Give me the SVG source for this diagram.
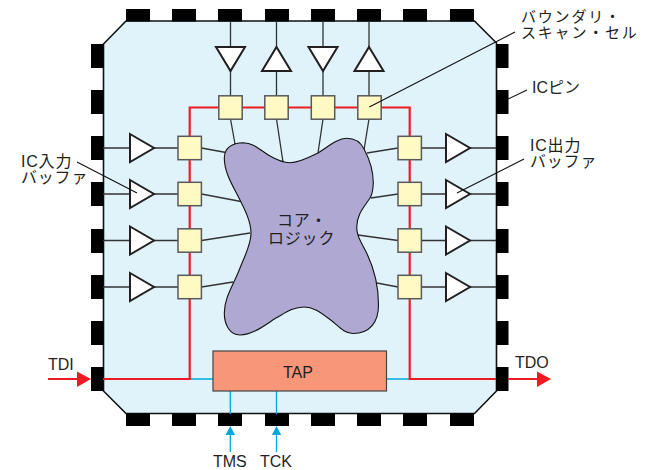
<svg xmlns="http://www.w3.org/2000/svg" width="653" height="470" viewBox="0 0 653 470">
<style>
text{font-family:"Liberation Sans","Noto Sans CJK JP",sans-serif;font-size:16px;fill:#231f20}
.k{letter-spacing:.8px}
.k2{font-size:15px;letter-spacing:1.8px}
.pin{fill:#000}
.cell{fill:#fff9c4;stroke:#58595b;stroke-width:1.5}
.buf{fill:#fff;stroke:#231f20;stroke-width:2}
.w{fill:none;stroke:#333;stroke-width:1.3}
.l{fill:none;stroke:#111;stroke-width:1.1}
.r{fill:none;stroke:#ed1c24;stroke-width:2.2}
.b{fill:none;stroke:#00a6e0;stroke-width:1.3}
</style>
<defs>
<rect id="ph" class="pin" width="24" height="12.5"/>
<rect id="pv" class="pin" width="12.5" height="24"/>
<rect id="c" class="cell" x="-11.7" y="-11.7" width="23.4" height="23.4"/>
<path id="br" class="buf" d="M-12-14L12 0L-12 14Z"/>
<path id="bl" class="buf" d="M-14.5-12H14.5L0 12Z"/>
<path id="bu" class="buf" d="M0-12L14.5 12H-14.5Z"/>
</defs>
<g id="package">
<path d="M126 21H474.500L496.500 43V391L474.500 413.500H126L103.500 391V44Z" fill="#e0f3fb" stroke="#111" stroke-width="1.6"/>
<use href="#ph" x="126" y="9"/><use href="#ph" x="172" y="9"/><use href="#ph" x="218" y="9"/><use href="#ph" x="265" y="9"/><use href="#ph" x="311" y="9"/><use href="#ph" x="357" y="9"/><use href="#ph" x="403" y="9"/><use href="#ph" x="450" y="9"/>
<use href="#ph" x="126" y="413.500"/><use href="#ph" x="172" y="413.500"/><use href="#ph" x="218" y="413.500"/><use href="#ph" x="265" y="413.500"/><use href="#ph" x="311" y="413.500"/><use href="#ph" x="357" y="413.500"/><use href="#ph" x="403" y="413.500"/><use href="#ph" x="450" y="413.500"/>
<use href="#pv" x="91" y="44"/><use href="#pv" x="91" y="90"/><use href="#pv" x="91" y="136"/><use href="#pv" x="91" y="182"/><use href="#pv" x="91" y="229"/><use href="#pv" x="91" y="275"/><use href="#pv" x="91" y="321"/><use href="#pv" x="91" y="367"/>
<use href="#pv" x="496" y="44"/><use href="#pv" x="496" y="90"/><use href="#pv" x="496" y="136"/><use href="#pv" x="496" y="182"/><use href="#pv" x="496" y="229"/><use href="#pv" x="496" y="275"/><use href="#pv" x="496" y="321"/><use href="#pv" x="496" y="367"/>
</g>
<g id="connectors">
<path class="b" d="M190 379H213M386 379H409M230.300 391V414M276.500 391V414"/>
<path class="b" d="M230.300 434V452M276.500 434V452"/>
<path fill="#00a6e0" d="M230.300 426L235 435H225.500ZM276.500 426L281.200 435H271.800Z"/>
<path class="r" d="M103 379H189.700V107.500H409.700V379H496"/>
<path class="r" d="M48 379H78M508 379H538"/>
<path fill="#ed1c24" d="M91 379L77 371.500V387ZM551 379L537 371.500V387Z"/>
<path class="w" d="M230.500 21V96M276.500 21V96M323 21V96M369 21V96"/>
<path class="w" d="M103 148H178M103 194H178M103 240.500H178M103 287H178M421 148H496M421 194H496M421 240.500H496M421 287H496"/>
<path class="w" d="M230.500 119L235 144M276.500 119L283 162M323 119L318 153M369 119L364 150M201.500 148L226 152.500M201.500 194L241 201.500M201.500 240.500L250 233M201.500 287L233 282M398 148L367 153M398 194L371 198M398 240.500L358 235M398 287L377 283"/>
</g>
<g id="core">
<path d="M224.300 158C224.300 148 232 142.700 243.300 142.700C255 143 262 152 270 156C277 160 283 162.700 290 162.700C300 162.700 310 157 318 153C328 147 337 138.300 346.700 138.300C355 138.300 361 143 364 149C370 160 373.300 170 373.300 183C373 190 372 195 370 198C365 206 356.700 214 356.700 227C356.700 236 360 240 363 246C372 262 378.500 280 378.500 305C378.500 322 370 333.500 353 333.500C343 333.500 337 324 328 318C320 312 313 307 304 307C293 307 285 313 276 318C265 325 253 335 240 335C230 335 224.300 325 224.300 313C224.300 297 234 284 240 268C245 255 251 245 251 233C251 222 245 210 240 200C233 186 224.300 173 224.300 158Z" fill="#aea8d3" stroke="#111" stroke-width="1.1"/>
<text class="k"><tspan x="277" y="226">コア・</tspan><tspan x="268" y="243.500">ロジック</tspan></text>
</g>
<g id="tap">
<rect x="213" y="351" width="173.500" height="40" fill="#f79679" stroke="#444" stroke-width="1.2"/>
<text x="283" y="378">TAP</text>
</g>
<g id="cells">
<use href="#c" x="230.500" y="107.500"/><use href="#c" x="276.500" y="107.500"/><use href="#c" x="323" y="107.500"/><use href="#c" x="369.500" y="107.500"/>
<use href="#c" x="189.700" y="148"/><use href="#c" x="189.700" y="194"/><use href="#c" x="189.700" y="240.500"/><use href="#c" x="189.700" y="287"/>
<use href="#c" x="409.700" y="148"/><use href="#c" x="409.700" y="194"/><use href="#c" x="409.700" y="240.500"/><use href="#c" x="409.700" y="287"/>
</g>
<g id="buffers">
<use href="#bl" x="230.500" y="59"/><use href="#bu" x="276.500" y="59"/><use href="#bl" x="323" y="59"/><use href="#bu" x="369" y="59"/>
<use href="#br" x="142" y="148"/><use href="#br" x="142" y="194"/><use href="#br" x="142" y="240.500"/><use href="#br" x="142" y="287"/>
<use href="#br" x="458" y="148"/><use href="#br" x="458" y="194"/><use href="#br" x="458" y="240.500"/><use href="#br" x="458" y="287"/>
</g>
<g id="leaders">
<path class="l" d="M77 162L137 193M515 32L369.300 107M527 90L508 99M524 159L457 193"/>
</g>
<g id="labels">
<text class="k"><tspan x="21" y="167">IC入力</tspan><tspan x="21" y="183">バッファ</tspan></text>
<text class="k2"><tspan x="521" y="21.500">バウンダリ・</tspan><tspan x="521" y="37.500">スキャン・セル</tspan></text>
<text x="532" y="93">ICピン</text>
<text class="k"><tspan x="530" y="151">IC出力</tspan><tspan x="530" y="167">バッファ</tspan></text>
<text x="48" y="370">TDI</text>
<text x="515" y="368">TDO</text>
<text x="213" y="466.500">TMS</text>
<text x="260" y="466.500">TCK</text>
</g>
</svg>
